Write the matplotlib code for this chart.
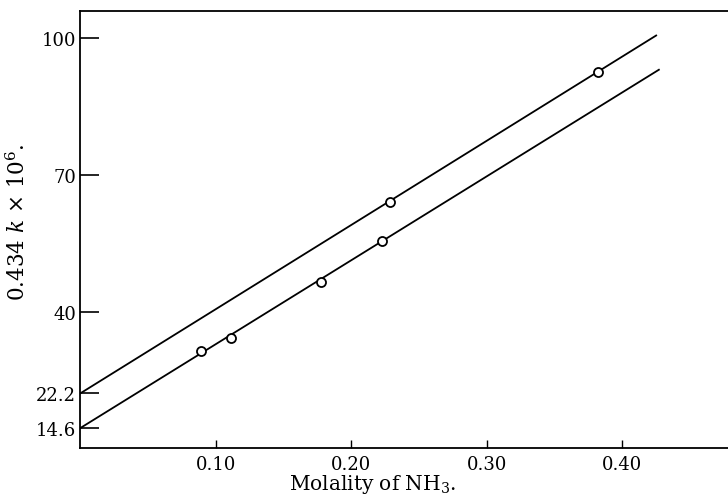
import matplotlib
matplotlib.use("Agg")
import matplotlib.pyplot as plt

plt.rcParams['font.family'] = ['DejaVu Serif']
plt.rcParams['mathtext.fontset'] = 'dejavuserif'

# Datos
upper_x = [0.229, 0.382]
upper_y = [64.2, 92.6]
lower_x = [0.089, 0.111, 0.178, 0.223]
lower_y = [31.4, 34.4, 46.6, 55.7]

# Rectas ajustadas (extremos)
upper_line_x = [0.0, 0.425]
upper_line_y = [22.2, 100.6]
lower_line_x = [0.0, 0.427]
lower_line_y = [14.6, 93.1]

xticks = [0.10, 0.20, 0.30, 0.40]
xticklabels = ['0.10', '0.20', '0.30', '0.40']
yticks = [14.6, 22.2, 40, 70, 100]
yticklabels = ['14.6', '22.2', '40', '70', '100']

fig = plt.figure(figsize=(7.28, 5.02), dpi=100)
ax = fig.add_axes([0.110, 0.105, 0.89, 0.8705])

ax.plot(upper_line_x, upper_line_y, color='black', lw=1.3)
ax.plot(lower_line_x, lower_line_y, color='black', lw=1.3)
ax.plot(upper_x, upper_y, 'o', mfc='white', mec='black', ms=6.5, mew=1.3)
ax.plot(lower_x, lower_y, 'o', mfc='white', mec='black', ms=6.5, mew=1.3)

ax.set_xlim(0, 0.478)
ax.set_ylim(10.2, 105.9)
ax.set_xticks(xticks)
ax.set_xticklabels(xticklabels)
ax.set_yticks(yticks)
ax.set_yticklabels(yticklabels)
ax.tick_params(axis='x', direction='in', length=6, width=1, labelsize=13, pad=5)
ax.tick_params(axis='y', direction='in', length=14, width=1.2, labelsize=13, pad=3)
ax.spines['right'].set_visible(False)
for s in ['left', 'bottom', 'top']:
    ax.spines[s].set_linewidth(1.3)

ax.set_xlabel('Molality of NH$_3$.', fontsize=14.5)
ax.xaxis.set_label_coords(0.452, -0.055)
ax.set_ylabel(r'0.434 $k$ $\times$ 10$^{6}$.', fontsize=15.5)
ax.yaxis.set_label_coords(-0.077, 0.52)

fig.savefig('out.png', dpi=100)
